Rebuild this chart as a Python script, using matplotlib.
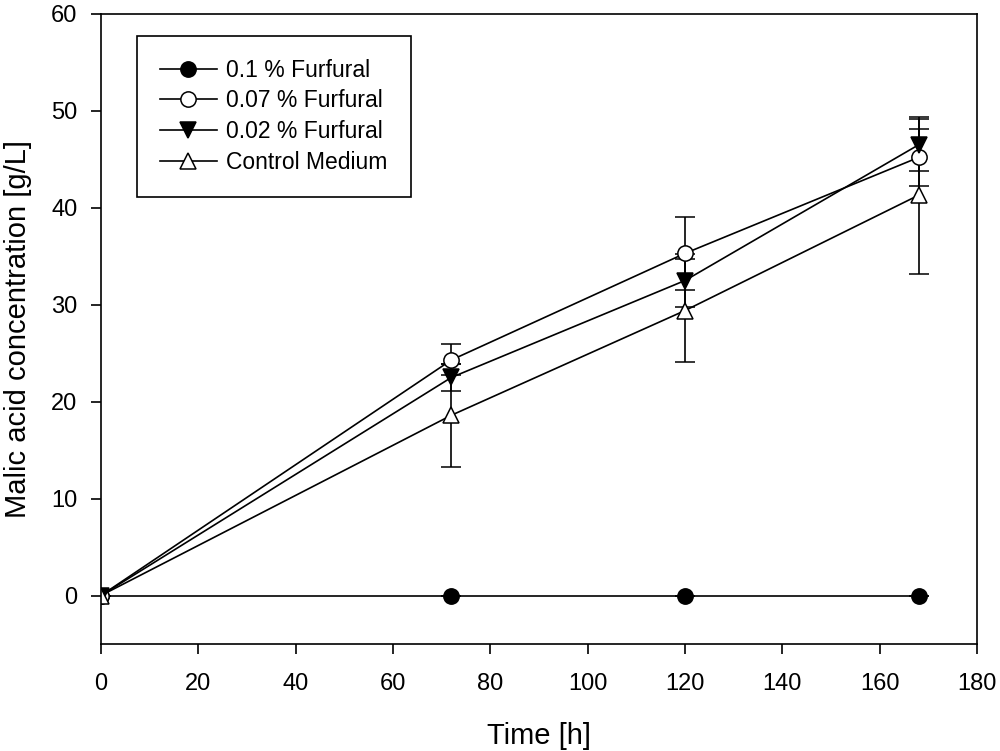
import matplotlib.pyplot as plt
from matplotlib.lines import Line2D

plt.rcParams["font.family"] = ["Liberation Sans", "DejaVu Sans"]

# Sampling times [h]
time_h = [0, 72, 120, 168]

# Malic acid concentration [g/L] and standard deviations
furfural_01 = [0, 0, 0, 0]
furfural_01_err = [0, 0, 0, 0]
furfural_007 = [0, 24.3, 35.3, 45.2]
furfural_007_err = [0, 1.6, 3.8, 2.9]
furfural_002 = [0, 22.5, 32.5, 46.5]
furfural_002_err = [0, 1.4, 2.7, 2.7]
control = [0, 18.6, 29.4, 41.3]
control_err = [0, 5.3, 5.3, 8.1]

series = [
    ("0.1 % Furfural", furfural_01, furfural_01_err, "o", "black"),
    ("0.07 % Furfural", furfural_007, furfural_007_err, "o", "white"),
    ("0.02 % Furfural", furfural_002, furfural_002_err, "v", "black"),
    ("Control Medium", control, control_err, "^", "white"),
]

fig = plt.figure(figsize=(10, 7.51), dpi=100)
ax = fig.add_axes([0.101, 0.1425, 0.876, 0.8389])

handles = []
for label, y, err, marker, face in series:
    ax.errorbar(
        time_h, y, yerr=err,
        color="black", marker=marker, markersize=11,
        markerfacecolor=face, markeredgecolor="black", markeredgewidth=1.1,
        linewidth=1.2, elinewidth=1.2, capsize=7, capthick=1.2,
    )
    handles.append(Line2D([], [], color="black", marker=marker, markersize=11,
                          markerfacecolor=face, markeredgecolor="black",
                          markeredgewidth=1.1, linewidth=1.2, label=label))

ax.set_xlim(0, 180)
ax.set_ylim(-5, 60)
ax.set_xticks(range(0, 181, 20))
ax.set_yticks(range(0, 61, 10))
ax.tick_params(direction="out", length=7, width=1.2, labelsize=17)
ax.tick_params(axis="x", pad=14)
ax.tick_params(axis="y", pad=10)
for s in ax.spines.values():
    s.set_linewidth(1.2)

ax.set_xlabel("Time [h]", fontsize=21, labelpad=19)
ax.set_ylabel("Malic acid concentration [g/L]", fontsize=21, labelpad=14)

leg = ax.legend(
    handles=handles, loc="upper left", bbox_to_anchor=(0.041, 0.965),
    fontsize=16.5, frameon=True, fancybox=False, edgecolor="black",
    framealpha=1, handlelength=2.5, borderpad=1.0, labelspacing=0.33,
    handletextpad=0.4, borderaxespad=0,
)
leg.get_frame().set_linewidth(1.2)

fig.savefig("out.png", dpi=100)
